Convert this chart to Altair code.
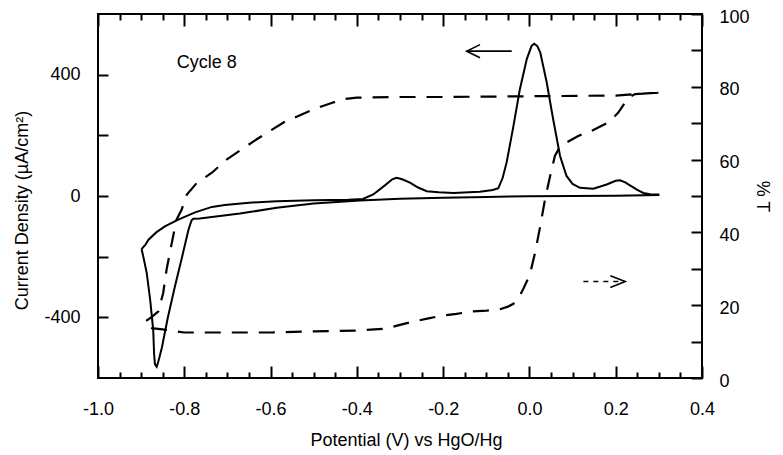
import altair as alt
import pandas as pd

FONT = "Liberation Sans"

# ---- Cyclic voltammogram, cycle 8 (current density, uA/cm^2), traced as one closed path
cv_potential = [
    -0.899, -0.890, -0.883, -0.865, -0.845, -0.814, -0.775, -0.736, -0.706, -0.650,
    -0.586, -0.500, -0.420, -0.386, -0.362, -0.335, -0.318, -0.308, -0.295, -0.277,
    -0.258, -0.238, -0.210, -0.176, -0.140, -0.115, -0.085, -0.072, -0.062, -0.053,
    -0.045, -0.037, -0.022, -0.006, 0.005, 0.011, 0.018, 0.025, 0.040, 0.055,
    0.071, 0.086, 0.100, 0.117, 0.148, 0.179, 0.200, 0.210, 0.222, 0.233,
    0.250, 0.264, 0.280, 0.299,
    0.299, 0.200, 0.100, 0.000, -0.100, -0.200, -0.300, -0.393, -0.500, -0.586,
    -0.671, -0.764, -0.779, -0.783, -0.790, -0.805, -0.822, -0.838, -0.852, -0.860,
    -0.864, -0.868, -0.870, -0.872, -0.879, -0.887, -0.895, -0.899,
]
cv_current = [
    -175, -160, -144, -120, -100, -78, -54, -36, -30, -22,
    -17, -14, -12, -10, 5, 35, 55, 60, 55, 44,
    28, 16, 12, 10, 12, 14, 20, 26, 60, 110,
    170, 231, 353, 452, 495, 502, 495, 474, 375, 253,
    132, 66, 40, 27, 24, 38, 50, 52, 45, 35,
    20, 10, 6, 5,
    3, 1, 0, -1, -3, -6, -9, -15, -25, -39,
    -58, -74, -75, -80, -110, -200, -300, -400, -500, -545,
    -563, -555, -520, -442, -343, -254, -200, -175,
]

# ---- %T trace (dashed), one closed path
t_potential = [
    0.299, 0.245, 0.200, 0.000, -0.200, -0.300, -0.400, -0.431, -0.455, -0.501,
    -0.570, -0.632, -0.702, -0.736, -0.771, -0.794, -0.806, -0.818, -0.829, -0.841,
    -0.849, -0.852, -0.860, -0.876, -0.891, -0.885, -0.876, -0.841, -0.800, -0.700,
    -0.600, -0.500, -0.400, -0.331, -0.300, -0.269, -0.234, -0.204, -0.169, -0.134,
    -0.099, -0.068, -0.050, -0.037, -0.025, -0.014, 0.001, 0.013, 0.025, 0.036,
    0.048, 0.059, 0.068, 0.079, 0.113, 0.144, 0.183, 0.206, 0.229, 0.245,
    0.299,
]
t_percent = [
    78.4, 78.0, 77.6, 77.4, 77.2, 77.2, 77.0, 76.6, 75.7, 73.8,
    70.2, 65.6, 60.0, 56.4, 53.6, 50.4, 46.3, 43.5, 37.1, 29.8,
    23.3, 22.0, 18.3, 16.7, 15.5, 14.0, 13.7, 13.2, 12.5, 12.5,
    12.5, 12.8, 13.0, 13.6, 14.6, 15.5, 16.4, 17.1, 17.6, 18.3,
    18.5, 18.9, 19.6, 20.4, 22.0, 24.5, 28.4, 34.4, 41.7, 49.0,
    55.5, 61.0, 63.0, 64.2, 66.5, 67.9, 70.2, 72.9, 77.0, 78.0,
    78.4,
]

# ---- annotations (data units of the current-density axis)
cycle_text = ["Cycle 8"]
cycle_potential = [-0.8176]
cycle_current = [440]

arrow_solid_x = [-0.041, -0.1455, -0.1146, -0.1455, -0.1146, 0.1875, 0.222, 0.1875]
arrow_solid_y = [477.5, 477.5, 499, 477.5, 456, -263, -282, -302]
arrow_solid_grp = ["a_shaft", "a_shaft", "a_head", "a_head", "a_head", "b_head", "b_head", "b_head"]
arrow_dash_x = [0.125, 0.218]
arrow_dash_y = [-282, -282]

# ---- tick values
x_major = [-1.0, -0.8, -0.6, -0.4, -0.2, 0.0, 0.2, 0.4]
x_minor = [-0.95, -0.9, -0.85, -0.75, -0.7, -0.65, -0.55, -0.5, -0.45, -0.35, -0.3,
           -0.25, -0.15, -0.1, -0.05, 0.05, 0.1, 0.15, 0.25, 0.3, 0.35]
y_left_ticks = [-400, -200, 0, 200, 400]
y_right_ticks = [0, 10, 20, 30, 40, 50, 60, 70, 80, 90, 100]

cv_df = pd.DataFrame({"order": list(range(len(cv_potential))), "V": cv_potential, "I": cv_current})
t_df = pd.DataFrame({"order": list(range(len(t_potential))), "V": t_potential, "T": t_percent})
txt_df = pd.DataFrame({"V": cycle_potential, "I": cycle_current, "label": cycle_text})
arr_df = pd.DataFrame({"order": list(range(len(arrow_solid_x))), "V": arrow_solid_x,
                       "I": arrow_solid_y, "grp": arrow_solid_grp})
arr2_df = pd.DataFrame({"order": [0, 1], "V": arrow_dash_x, "I": arrow_dash_y})

XS = alt.Scale(domain=[-1.0, 0.4], nice=False, zero=False)
YL = alt.Scale(domain=[-600, 600], nice=False, zero=False)
YR = alt.Scale(domain=[0, 100], nice=False, zero=False)

common = dict(domain=False, grid=False, tickColor="black", tickWidth=2, labelFlush=False,
              labelOverlap=False, labelFont=FONT, labelFontSize=18, labelColor="black",
              titleFont=FONT, titleFontSize=18, titleColor="black", titleFontWeight="normal")

x_bottom_major = alt.Axis(orient="bottom", values=x_major, tickSize=12, offset=-12, labelPadding=22,
                          labelExpr="(datum.value < 0 ? '-' : '') + format(abs(datum.value), '.1f')",
                          titlePadding=13, titleX=308, **common)
x_bottom_minor = alt.Axis(orient="bottom", values=x_minor, tickSize=6, offset=-6, labels=False, **common)
x_top_major = alt.Axis(orient="top", values=x_major, tickSize=12, offset=-12, labels=False, **common)
x_top_minor = alt.Axis(orient="top", values=x_minor, tickSize=6, offset=-6, labels=False, **common)

y_left = alt.Axis(orient="left", values=y_left_ticks, tickSize=10, offset=-10, labelPadding=18,
                  labelExpr="datum.value == 400 ? '400' : datum.value == 0 ? '0' : datum.value == -400 ? '-400' : ''",
                  titlePadding=12, titleY=196, **common)
y_right = alt.Axis(orient="right", values=y_right_ticks, tickSize=11, offset=-11, labelPadding=17,
                   labelOffset=3,
                   labelExpr="datum.value % 20 == 0 ? format(datum.value, 'd') : ''",
                   titlePadding=3, **common)

cv = alt.Chart(cv_df).mark_line(color="black", strokeWidth=2).encode(
    x=alt.X("V:Q", scale=XS, axis=x_bottom_major, title="Potential (V) vs HgO/Hg"),
    y=alt.Y("I:Q", scale=YL, axis=y_left, title="Current Density (µA/cm²)"),
    order="order:Q",
)


def ghost(axis):
    return alt.Chart(cv_df).mark_line(opacity=0).encode(
        x=alt.X("V:Q", scale=XS, axis=axis, title=None),
        y=alt.Y("I:Q", scale=YL, axis=None),
        order="order:Q",
    )


tline = alt.Chart(t_df).mark_line(color="black", strokeWidth=2.2, strokeDash=[16, 11]).encode(
    x=alt.X("V:Q", scale=XS, axis=None),
    y=alt.Y("T:Q", scale=YR, axis=y_right, title="% T"),
    order="order:Q",
)

arrows = alt.Chart(arr_df).mark_line(color="black", strokeWidth=1.6).encode(
    x=alt.X("V:Q", scale=XS, axis=None),
    y=alt.Y("I:Q", scale=YL, axis=None),
    detail="grp:N",
    order="order:Q",
)
arrow_dash = alt.Chart(arr2_df).mark_line(color="black", strokeWidth=1.6, strokeDash=[5, 5]).encode(
    x=alt.X("V:Q", scale=XS, axis=None),
    y=alt.Y("I:Q", scale=YL, axis=None),
    order="order:Q",
)

label = alt.Chart(txt_df).mark_text(align="left", baseline="middle", font=FONT, fontSize=18,
                                     color="black").encode(
    x=alt.X("V:Q", scale=XS, axis=None),
    y=alt.Y("I:Q", scale=YL, axis=None),
    text="label:N",
)

chart = alt.layer(
    cv, ghost(x_bottom_minor), ghost(x_top_major), ghost(x_top_minor),
    tline, arrows, arrow_dash, label,
).resolve_scale(y="independent").resolve_axis(x="independent", y="independent").properties(
    width=604, height=364,
    autosize=alt.AutoSizeParams(type="none"),
    padding={"left": 90, "top": 6, "right": 73, "bottom": 77},
).configure_view(stroke="black", strokeWidth=2)

chart.save("out.html", embed_options={"renderer": "svg", "actions": False})
